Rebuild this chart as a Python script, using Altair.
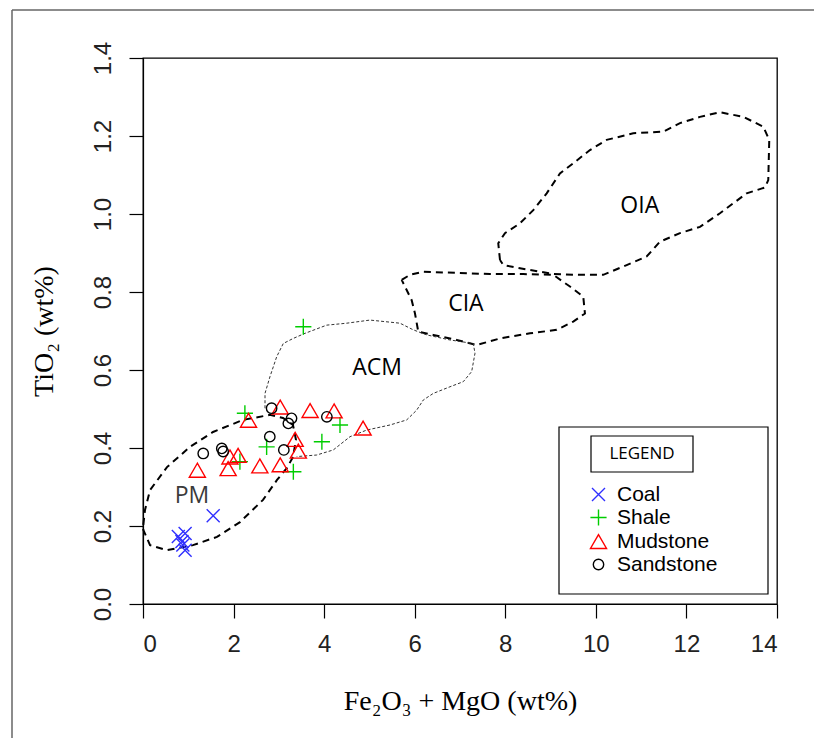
import altair as alt
import pandas as pd

# ---- sample compositions: Fe2O3 + MgO (wt%) vs TiO2 (wt%) ----
rocks = ["Coal", "Shale", "Mudstone", "Sandstone"]

coal_x = [0.78, 0.93, 0.86, 0.93, 0.88, 1.55]
coal_y = [0.173, 0.181, 0.160, 0.138, 0.151, 0.226]

shale_x = [3.54, 2.25, 2.73, 2.14, 3.32, 3.95, 4.35]
shale_y = [0.711, 0.489, 0.403, 0.365, 0.339, 0.416, 0.459]

mud_x = [1.20, 1.88, 1.92, 2.10, 2.58, 3.03, 3.36, 3.43, 2.33, 3.03, 3.69, 4.22, 4.86]
mud_y = [0.343, 0.347, 0.377, 0.381, 0.354, 0.357, 0.422, 0.392, 0.471, 0.505, 0.496, 0.495, 0.451]

sand_x = [1.33, 1.74, 1.77, 2.80, 3.11, 2.84, 3.28, 3.21, 4.06]
sand_y = [0.386, 0.399, 0.391, 0.429, 0.395, 0.502, 0.476, 0.463, 0.480]

# ---- tectonic-setting field outlines ----
pm_x = [0.007, 0.044, 0.155, 0.530, 1.038, 1.546, 2.208, 2.804, 3.091, 3.312, 3.378,
        3.312, 3.180, 2.959, 2.650, 2.142, 1.634, 1.104, 0.530, 0.155, 0.007, 0.007]
pm_y = [0.203, 0.241, 0.292, 0.351, 0.403, 0.441, 0.472, 0.485, 0.477, 0.459, 0.421,
        0.377, 0.349, 0.318, 0.267, 0.210, 0.172, 0.151, 0.138, 0.151, 0.190, 0.203]

acm_x = [2.694, 2.694, 2.804, 2.952, 3.098, 3.319, 3.577, 4.056, 4.498, 5.012, 5.675,
         5.968, 6.264, 6.779, 7.293, 7.331, 7.258, 7.072, 6.779, 6.410, 6.189, 6.043,
         5.823, 5.454, 4.939, 4.571, 4.202, 3.835, 3.394]
acm_y = [0.502, 0.540, 0.583, 0.634, 0.668, 0.681, 0.694, 0.715, 0.720, 0.728, 0.720,
         0.703, 0.690, 0.677, 0.668, 0.643, 0.596, 0.570, 0.557, 0.540, 0.523, 0.497,
         0.472, 0.459, 0.446, 0.429, 0.395, 0.382, 0.378]

cia_x = [5.712, 5.895, 6.189, 6.927, 7.662, 8.397, 9.060, 9.428, 9.722, 9.759, 9.501,
         9.135, 8.545, 7.883, 7.368, 6.927, 6.410, 6.079, 6.006, 5.933, 5.785, 5.712]
cia_y = [0.831, 0.844, 0.852, 0.849, 0.846, 0.846, 0.844, 0.814, 0.788, 0.745, 0.724,
         0.703, 0.694, 0.681, 0.664, 0.677, 0.690, 0.698, 0.745, 0.779, 0.814, 0.831]

oia_x = [7.883, 7.845, 7.993, 8.324, 8.618, 8.914, 9.207, 9.501, 9.870, 10.238, 10.826,
         11.488, 11.857, 12.299, 12.740, 13.255, 13.696, 13.829, 13.807, 13.734, 13.330,
         12.740, 12.299, 11.857, 11.415, 11.122, 10.680, 10.163, 9.649, 9.060, 8.324,
         7.956, 7.883]
oia_y = [0.882, 0.925, 0.951, 0.976, 1.010, 1.053, 1.104, 1.130, 1.164, 1.190, 1.207,
         1.211, 1.233, 1.249, 1.261, 1.249, 1.224, 1.190, 1.087, 1.068, 1.053,
         1.002, 0.967, 0.951, 0.929, 0.891, 0.869, 0.844, 0.844, 0.846, 0.861,
         0.869, 0.882]

field_names = ["PM", "ACM", "CIA", "OIA"]
field_label_x = [1.08, 5.17, 7.13, 10.97]
field_label_y = [0.277, 0.605, 0.769, 1.021]

x_ticks = [0, 2, 4, 6, 8, 10, 12, 14]
y_ticks = [0.0, 0.2, 0.4, 0.6, 0.8, 1.0, 1.2, 1.4]

# ---- tables ----
samples = pd.concat([
    pd.DataFrame({"rock": name, "x": xs, "y": ys})
    for name, xs, ys in [("Coal", coal_x, coal_y), ("Shale", shale_x, shale_y),
                         ("Mudstone", mud_x, mud_y), ("Sandstone", sand_x, sand_y)]
], ignore_index=True)


def outline(name, xs, ys):
    return pd.DataFrame({"field": name, "i": range(len(xs)), "x": xs, "y": ys})


bold_fields = pd.concat([outline("PM", pm_x, pm_y), outline("CIA", cia_x, cia_y),
                         outline("OIA", oia_x, oia_y)], ignore_index=True)
thin_fields = outline("ACM", acm_x, acm_y)
labels = pd.DataFrame({"name": field_names, "x": field_label_x, "y": field_label_y})
one = pd.DataFrame({"k": [0]})

xs = alt.Scale(domain=[0, 14], nice=False, zero=False)
ys = alt.Scale(domain=[0, 1.4], nice=False, zero=False)

x_axis = alt.Axis(values=x_ticks, format="d", title="Fe₂O₃ + MgO (wt%)")
y_axis = alt.Axis(values=y_ticks, format=".1f", title="TiO₂ (wt%)", labelAngle=270,
                  labelAlign="center", labelBaseline="bottom")

X = alt.X("x:Q", scale=xs, axis=x_axis)
Y = alt.Y("y:Q", scale=ys, axis=y_axis)

bold = alt.Chart(bold_fields).mark_line(
    color="black", strokeWidth=2, strokeDash=[7, 5]
).encode(x=X, y=Y, detail="field:N", order="i:Q")

thin = alt.Chart(thin_fields).mark_line(
    color="#333333", strokeWidth=1, strokeDash=[3, 2]
).encode(x=X, y=Y, order="i:Q")

field_text = alt.Chart(labels).mark_text(
    font="Open Sans", fontSize=23, color="black"
).encode(x=X, y=Y, text="name:N",
         color=alt.condition(alt.datum.name == "PM", alt.value("#3a3a3a"), alt.value("black")))

# legend frame and heading box
legend_frame = alt.Chart(one).mark_rect(fill="white", stroke="black", strokeWidth=1.2).encode(
    x=alt.value(416), x2=alt.value(625), y=alt.value(369), y2=alt.value(536))
heading_box = alt.Chart(one).mark_rect(fill="white", stroke="black", strokeWidth=1.2).encode(
    x=alt.value(448), x2=alt.value(550), y=alt.value(378), y2=alt.value(414))
heading = alt.Chart(one).mark_text(
    text="LEGEND", font="Open Sans", fontSize=17, color="black", align="center", baseline="middle"
).encode(x=alt.value(499), y=alt.value(396))

X_PATH = "M-0.8,-0.8L0.8,0.8M-0.8,0.8L0.8,-0.8"
PLUS_PATH = "M-1,0L1,0M0,-1L0,1"
CIRCLE_PATH = "M0.65,0A0.65,0.65 0 1,1 -0.65,0A0.65,0.65 0 1,1 0.65,0Z"

points = alt.Chart(samples).mark_point(filled=False, strokeWidth=1.4, opacity=1).encode(
    x=X, y=Y,
    color=alt.Color("rock:N", scale=alt.Scale(domain=rocks,
                    range=["#2f2fff", "#00cd00", "#ff0000", "#000000"]),
                    legend=alt.Legend(title=None, orient="none", legendX=445, legendY=426,
                                      padding=0, symbolSize=120, symbolStrokeWidth=1.4,
                                      labelFont="Liberation Sans", labelFontSize=21,
                                      labelColor="black", labelOffset=8, rowPadding=1)),
    shape=alt.Shape("rock:N", scale=alt.Scale(domain=rocks,
                    range=[X_PATH, PLUS_PATH, "triangle-up", CIRCLE_PATH])),
    size=alt.Size("rock:N", scale=alt.Scale(domain=rocks, range=[264, 256, 196, 286]),
                  legend=None),
)

# outer page frame
frame_left = alt.Chart(one).mark_rule(color="#666666", strokeWidth=1.5).encode(
    x=alt.value(-131), y=alt.value(-48), y2=alt.value(680))
frame_top = alt.Chart(one).mark_rule(color="#666666", strokeWidth=1.5).encode(
    x=alt.value(-131), x2=alt.value(671), y=alt.value(-48))

chart = alt.layer(
    frame_left, frame_top, bold, thin, field_text, legend_frame, heading_box, heading, points
).properties(
    width=634, height=546,
    padding={"left": 143, "top": 58, "right": 37, "bottom": 134},
    autosize=alt.AutoSizeParams(type="none"),
).configure_view(
    stroke="black", strokeWidth=1.3
).configure_axis(
    grid=False, domainColor="black", tickColor="black", tickSize=14, tickWidth=1.2,
    domainWidth=1.2, labelFont="Liberation Sans Narrow, Liberation Sans, Arial",
    labelFontSize=24, labelColor="#222222", labelPadding=14,
    titleFont="Liberation Serif", titleFontSize=28, titleFontWeight="normal",
    titleColor="black",
).configure_axisX(
    titlePadding=31
).configure_axisY(
    labelPadding=14, titlePadding=33
)

chart.save("out.html", embed_options={"renderer": "svg", "actions": False})
